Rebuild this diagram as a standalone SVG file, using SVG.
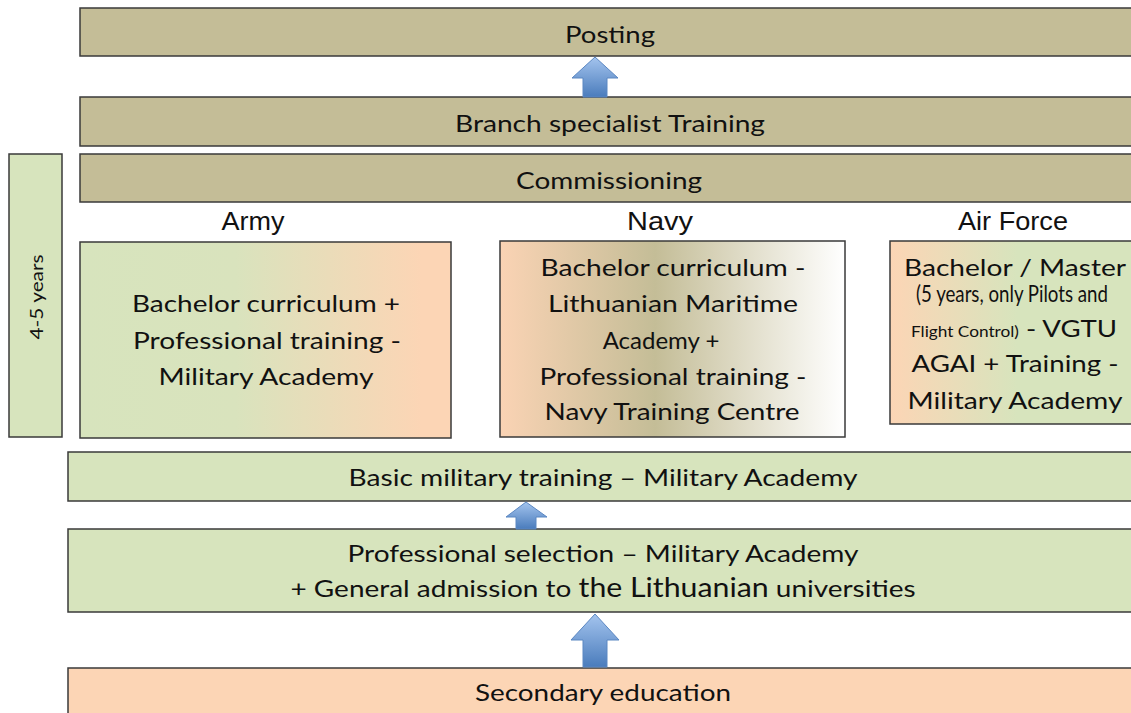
<svg xmlns="http://www.w3.org/2000/svg" width="1131" height="713" viewBox="0 0 1131 713">
<style>
.box{stroke:#3a3a3a;stroke-width:1.5}
.tan{fill:#c4bd97}
.grn{fill:#d7e4bd}
.pch{fill:#fcd5b5}
.t{font-family:Lato,"Open Sans",sans-serif;font-size:24px;fill:#111;text-anchor:middle}
.h{font-family:"Liberation Sans",Arial,sans-serif;font-size:25px;fill:#111;text-anchor:middle}
.arrow{fill:url(#blue);stroke:#5b87c2;stroke-width:1}
</style>
<defs>
<linearGradient id="blue" x1="0" y1="0" x2="0" y2="1">
<stop offset="0" stop-color="#a4c4ee"/>
<stop offset="1" stop-color="#4a7cbc"/>
</linearGradient>
<linearGradient id="army" x1="0" y1="0" x2="1" y2="0">
<stop offset="0" stop-color="#d7e4bd"/>
<stop offset="0.42" stop-color="#d9e3bd"/>
<stop offset="0.92" stop-color="#fcd5b5"/>
<stop offset="1" stop-color="#fcd5b5"/>
</linearGradient>
<linearGradient id="navy" x1="0" y1="0" x2="1" y2="0">
<stop offset="0" stop-color="#fad3b4"/>
<stop offset="0.45" stop-color="#c4bd97"/>
<stop offset="1" stop-color="#ffffff"/>
</linearGradient>
<linearGradient id="air" x1="0" y1="0" x2="1" y2="0">
<stop offset="0" stop-color="#fcd5b5"/>
<stop offset="0.5" stop-color="#d7e4bd"/>
<stop offset="1" stop-color="#d7e4bd"/>
</linearGradient>
</defs>

<g id="posting">
<rect class="box tan" x="80" y="8" width="1065" height="48"/>
<text class="t" x="610" y="43" textLength="90" lengthAdjust="spacingAndGlyphs">Posting</text>
</g>
<g id="branch">
<rect class="box tan" x="80" y="97" width="1065" height="49"/>
<text class="t" x="610" y="132" textLength="310" lengthAdjust="spacingAndGlyphs">Branch specialist Training</text>
</g>
<g id="commissioning">
<rect class="box tan" x="80" y="154" width="1065" height="48"/>
<text class="t" x="609" y="189" textLength="186" lengthAdjust="spacingAndGlyphs">Commissioning</text>
</g>
<g id="years">
<rect class="box grn" x="9" y="154" width="53" height="283"/>
<text font-family="Lato,'Open Sans',sans-serif" font-size="18" fill="#111" text-anchor="middle" transform="translate(43,297) rotate(-90)" textLength="85" lengthAdjust="spacingAndGlyphs">4-5 years</text>
</g>

<g id="labels">
<text class="h" x="253" y="230" textLength="63" lengthAdjust="spacingAndGlyphs">Army</text>
<text class="h" x="660" y="230" textLength="66" lengthAdjust="spacingAndGlyphs">Navy</text>
<text class="h" x="1013" y="230" textLength="110" lengthAdjust="spacingAndGlyphs">Air Force</text>
</g>

<g id="army-box">
<rect class="box" fill="url(#army)" x="80" y="242" width="371" height="196"/>
<text class="t" x="266" y="312" textLength="268" lengthAdjust="spacingAndGlyphs">Bachelor curriculum +</text>
<text class="t" x="267" y="349" textLength="268" lengthAdjust="spacingAndGlyphs">Professional training -</text>
<text class="t" x="266" y="385" textLength="215" lengthAdjust="spacingAndGlyphs">Military Academy</text>
</g>
<g id="navy-box">
<rect class="box" fill="url(#navy)" x="500" y="241" width="345" height="196"/>
<text class="t" x="673" y="276" textLength="265" lengthAdjust="spacingAndGlyphs">Bachelor curriculum -</text>
<text class="t" x="673" y="312" textLength="250" lengthAdjust="spacingAndGlyphs">Lithuanian Maritime</text>
<text class="t" x="661" y="349">Academy +</text>
<text class="t" x="673" y="385" textLength="267" lengthAdjust="spacingAndGlyphs">Professional training -</text>
<text class="t" x="672" y="420" textLength="255" lengthAdjust="spacingAndGlyphs">Navy Training Centre</text>
</g>
<g id="airforce-box">
<rect class="box" fill="url(#air)" x="890" y="241" width="255" height="183"/>
<text class="t" x="1015" y="276" textLength="222" lengthAdjust="spacingAndGlyphs">Bachelor / Master</text>
<text class="t" x="1012" y="302" font-size="14" textLength="192" lengthAdjust="spacingAndGlyphs">(5 years, only Pilots and</text>
<text class="t" x="1014" y="337" textLength="206" lengthAdjust="spacingAndGlyphs"><tspan font-size="15">Flight Control)</tspan> - VGTU</text>
<text class="t" x="1015" y="372" textLength="207" lengthAdjust="spacingAndGlyphs">AGAI + Training -</text>
<text class="t" x="1015" y="409" textLength="215" lengthAdjust="spacingAndGlyphs">Military Academy</text>
</g>

<g id="basic">
<rect class="box grn" x="68" y="452" width="1075" height="49"/>
<text class="t" x="603" y="486" textLength="509" lengthAdjust="spacingAndGlyphs">Basic military training – Military Academy</text>
</g>
<g id="selection">
<rect class="box grn" x="68" y="529" width="1075" height="83"/>
<text class="t" x="603" y="562" textLength="511" lengthAdjust="spacingAndGlyphs">Professional selection – Military Academy</text>
<text class="t" x="603" y="597" textLength="625" lengthAdjust="spacingAndGlyphs">+ General admission to <tspan font-size="26">the Lithuanian</tspan> universities</text>
</g>
<g id="secondary">
<rect class="box pch" x="68" y="668" width="1075" height="60"/>
<text class="t" x="603" y="701" textLength="256" lengthAdjust="spacingAndGlyphs">Secondary education</text>
</g>

<g id="connectors">
<path class="arrow" d="M595,57 L618,78 L607,78 L607,97 L583,97 L583,78 L572,78 Z"/>
<path class="arrow" d="M526,502 L547,517 L536,517 L536,529 L516,529 L516,517 L506,517 Z"/>
<path class="arrow" d="M595,614 L619,640 L607,640 L607,667 L583,667 L583,640 L571,640 Z"/>
</g>
</svg>
